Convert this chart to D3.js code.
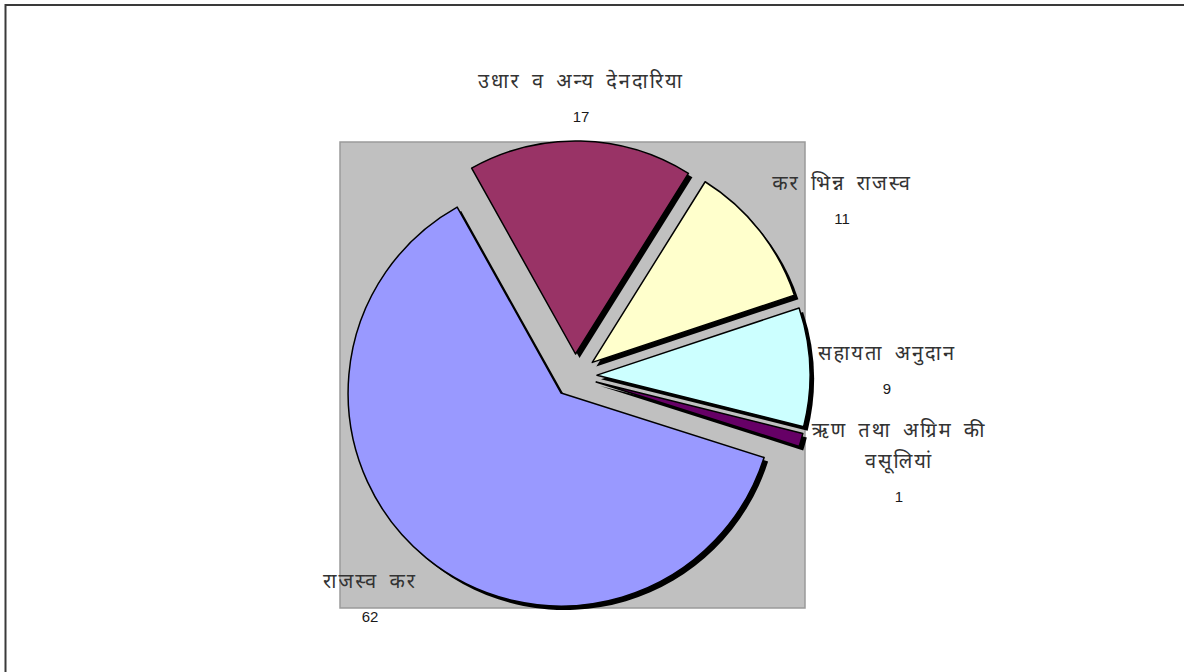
<!DOCTYPE html>
<html>
<head>
<meta charset="utf-8">
<script src="https://cdn.jsdelivr.net/npm/d3@7"></script>
<style>
  html, body { margin: 0; padding: 0; background: #fff; }
  svg { display: block; }
</style>
</head>
<body>
<svg id="chart" width="1184" height="672"></svg>
<script>
// ---- data ----
const categories = ["राजस्व कर", "उधार व अन्य देनदारिया", "कर भिन्न राजस्व", "सहायता अनुदान", "ऋण तथा अग्रिम की वसूलियां"];
const labelLines = [["राजस्व कर"], ["उधार व अन्य देनदारिया"], ["कर भिन्न राजस्व"], ["सहायता अनुदान"], ["ऋण तथा अग्रिम की", "वसूलियां"]];
const values = [62, 17, 11, 9, 1];
const colors = ["#9999FF", "#993366", "#FFFFCC", "#CCFFFF", "#660066"];

// ---- layout ----
const W = 1184, H = 672;
const cx = 575, cy = 376, radius = 213, explode = 22;
const startDeg = 107.6;
const plot = { x: 340, y: 142, w: 465, h: 466 };
// label anchor (centre of first line) relative to pie centre
const labelOffsets = [[-205, 207], [6, -293], [267, -191], [312, -21], [324, 56]];
const lineGap = 31;

const svg = d3.select("#chart");

// outer chart border (only top/left visible)
svg.append("rect")
  .attr("x", 5.5).attr("y", 5).attr("width", 1300).attr("height", 800)
  .attr("fill", "#fff").attr("stroke", "#3a3a3a").attr("stroke-width", 2);

// plot area
svg.append("rect")
  .attr("x", plot.x).attr("y", plot.y).attr("width", plot.w).attr("height", plot.h)
  .attr("fill", "#C0C0C0").attr("stroke", "#9a9a9a").attr("stroke-width", 1.5);

const pie = d3.pie().sort(null)
  .startAngle(startDeg * Math.PI / 180)
  .endAngle(startDeg * Math.PI / 180 + 2 * Math.PI);
const arcs = pie(values);
const arc = d3.arc().innerRadius(0).outerRadius(radius);

function shift(d) {
  const a = (d.startAngle + d.endAngle) / 2;
  return [cx + explode * Math.sin(a), cy - explode * Math.cos(a)];
}

const g = svg.append("g");
// shadows
g.selectAll("path.shadow").data(arcs).enter().append("path")
  .attr("class", "shadow")
  .attr("d", arc)
  .attr("transform", d => { const p = shift(d); return `translate(${p[0] + 4},${p[1] + 4})`; })
  .attr("fill", "#000");
// slices
g.selectAll("path.slice").data(arcs).enter().append("path")
  .attr("class", "slice")
  .attr("d", arc)
  .attr("transform", d => { const p = shift(d); return `translate(${p[0]},${p[1]})`; })
  .attr("fill", (d, i) => colors[i])
  .attr("stroke", "#000").attr("stroke-width", 1.5).attr("stroke-linejoin", "round");

// labels
const lg = svg.append("g");
arcs.forEach((d, i) => {
  const x = cx + labelOffsets[i][0], y = cy + labelOffsets[i][1];
  const t = lg.append("text").attr("text-anchor", "middle").attr("fill", "#333");
  labelLines[i].forEach((ln, k) => {
    t.append("tspan").attr("x", x).attr("y", y + k * lineGap)
      .attr("dominant-baseline", "central")
      .style("font-family", "'Noto Sans Devanagari','Lohit Devanagari','Noto Sans',sans-serif")
      .style("font-size", "20px")
      .style("letter-spacing", "2px")
      .style("word-spacing", "4px")
      .text(ln);
  });
  t.append("tspan").attr("x", x).attr("y", y + labelLines[i].length * lineGap + 2)
    .attr("dominant-baseline", "central")
    .attr("fill", "#1a1a1a")
    .style("font-family", "'Liberation Sans',Arial,sans-serif")
    .style("font-size", "15px")
    .text(values[i]);
});
</script>
</body>
</html>
